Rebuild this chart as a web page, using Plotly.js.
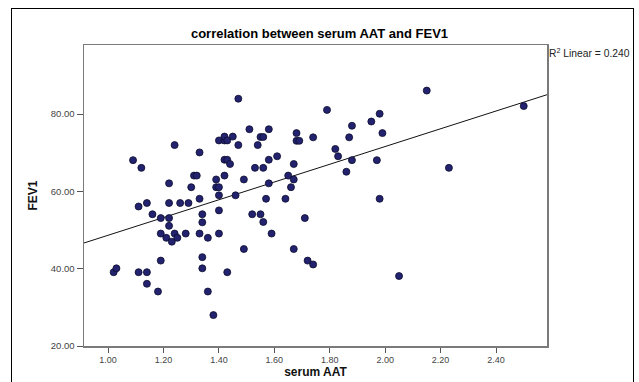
<!DOCTYPE html>
<html>
<head>
<meta charset="utf-8">
<script src="https://cdn.plot.ly/plotly-3.0.1.min.js"></script>
<style>
  html, body { margin: 0; padding: 0; background: #fff; overflow: hidden; }
  #wrap { position: relative; width: 639px; height: 382px; }
  #chart { position: absolute; left: 0; top: 0; width: 639px; height: 382px; }
  #frame { position: absolute; left: 11px; top: 8px; width: 621px; height: 400px; border: 1px solid #000; pointer-events: none; }
</style>
</head>
<body>
<div id="wrap">
  <div id="chart"></div>
  <div id="frame"></div>
</div>
<script>
// serum AAT values (x)
const serumAAT = [
  1.02, 1.03, 1.09, 1.11, 1.11, 1.12, 1.14, 1.14, 1.14, 1.16,
  1.18, 1.19, 1.19, 1.19, 1.21, 1.22, 1.22, 1.22, 1.22, 1.23,
  1.24, 1.24, 1.25, 1.26, 1.28, 1.29, 1.30, 1.31, 1.32, 1.33,
  1.33, 1.33, 1.34, 1.34, 1.34, 1.34, 1.36, 1.36, 1.38, 1.39,
  1.39, 1.40, 1.40, 1.40, 1.40, 1.40, 1.42, 1.42, 1.42, 1.42,
  1.43, 1.43, 1.43, 1.44, 1.45, 1.46, 1.47, 1.47,
  1.49, 1.49, 1.51, 1.52, 1.53, 1.54, 1.55, 1.55, 1.56, 1.56,
  1.56, 1.57, 1.58, 1.58, 1.58, 1.59, 1.61, 1.64, 1.65, 1.66,
  1.67, 1.67, 1.67, 1.68, 1.68, 1.69, 1.71, 1.72, 1.74, 1.74,
  1.79, 1.82, 1.83, 1.86, 1.87, 1.88, 1.88, 1.95, 1.98, 1.97,
  1.98, 1.99, 2.05, 2.15, 2.23, 2.50
];
// FEV1 values (y)
const fev1 = [
  39.1, 40.1, 68.1, 56.1, 39.1, 66.1, 57.0, 39.1, 36.1, 54.1,
  34.1, 53.1, 49.1, 42.1, 48.0, 62.1, 57.0, 53.1, 51.1, 47.0,
  72.0, 49.1, 48.0, 57.0, 49.1, 57.0, 61.1, 64.1, 64.1, 70.1,
  58.1, 49.1, 54.1, 52.0, 43.0, 40.1, 48.0, 34.1, 28.0, 63.1,
  61.1, 73.2, 61.1, 59.0, 55.1, 49.1, 73.2, 74.2, 68.2, 64.1,
  73.2, 68.2, 39.1, 67.1, 74.2, 59.0, 84.0, 72.0,
  63.1, 45.1, 76.1, 54.1, 66.1, 72.0, 54.1, 74.1, 52.1, 66.1,
  74.1, 58.1, 76.1, 68.2, 62.1, 49.1, 69.1, 58.1, 64.1, 61.1,
  67.1, 63.1, 45.1, 75.1, 73.1, 73.1, 53.1, 42.1, 74.0, 41.1,
  81.1, 71.0, 69.1, 65.1, 74.0, 77.0, 68.1, 78.1, 80.1, 68.1,
  58.1, 75.1, 38.1, 86.1, 66.1, 82.1
];
const xTickVals = [1.0, 1.2, 1.4, 1.6, 1.8, 2.0, 2.2, 2.4];
const yTickVals = [20, 40, 60, 80];
const titleText = 'correlation between serum AAT and FEV1';
const xTitle = 'serum AAT';
const yTitle = 'FEV1';
const r2Label = 'R<sup>2</sup> Linear = 0.240';

const xRange = [0.913, 2.584];
const yRange = [20, 97.9];

// least-squares fit line from the data
const n = serumAAT.length;
const mx = serumAAT.reduce((a, b) => a + b, 0) / n;
const my = fev1.reduce((a, b) => a + b, 0) / n;
let sxy = 0, sxx = 0;
for (let i = 0; i < n; i++) { sxy += (serumAAT[i] - mx) * (fev1[i] - my); sxx += (serumAAT[i] - mx) ** 2; }
const slope = sxy / sxx;
const intercept = my - slope * mx;
const fitX = xRange.slice();
const fitY = fitX.map(v => intercept + slope * v);

const font = 'Liberation Sans, Arial, sans-serif';

const traces = [
  {
    x: fitX, y: fitY, type: 'scatter', mode: 'lines',
    line: { color: '#111', width: 1 }, hoverinfo: 'skip', showlegend: false
  },
  {
    x: serumAAT, y: fev1, type: 'scatter', mode: 'markers',
    marker: { size: 7, color: '#22226e', line: { color: '#0d0d2e', width: 0.8 } },
    showlegend: false
  }
];

const layout = {
  width: 639, height: 382,
  margin: { l: 84, r: 92, t: 45, b: 36 },
  paper_bgcolor: '#fff', plot_bgcolor: '#fff',
  font: { family: font, color: '#333', size: 9 },
  title: {
    text: titleText, x: 0.5, xref: 'container', xanchor: 'center',
    y: 0.912, yref: 'container', yanchor: 'middle',
    font: { family: font, size: 13, color: '#000', weight: 'bold' }
  },
  xaxis: {
    range: xRange, tickvals: xTickVals, tickformat: '.2f',
    ticks: 'outside', ticklen: 5, tickcolor: '#555', tickwidth: 1,
    showline: true, linecolor: '#7a7a7a', linewidth: 1.5, mirror: true,
    showgrid: false, zeroline: false,
    tickfont: { size: 9, color: '#444', family: font },
    title: { text: xTitle, standoff: 3, font: { size: 12, color: '#111', family: font, weight: 'bold' } }
  },
  yaxis: {
    range: yRange, tickvals: yTickVals, tickformat: '.2f',
    ticks: 'outside', ticklen: 6, tickcolor: '#555', tickwidth: 1,
    showline: true, linecolor: '#7a7a7a', linewidth: 1.5, mirror: true,
    showgrid: false, zeroline: false,
    tickfont: { size: 9.5, color: '#444', family: font },
    title: { text: yTitle, standoff: 10, font: { size: 12, color: '#111', family: font, weight: 'bold' } }
  },
  annotations: [
    {
      text: r2Label, xref: 'paper', yref: 'paper', x: 1.0, y: 0.974,
      xanchor: 'left', yanchor: 'middle', showarrow: false,
      font: { size: 10.3, color: '#222', family: font }
    }
  ]
};

Plotly.newPlot('chart', traces, layout, { displayModeBar: false, staticPlot: true });
</script>
</body>
</html>
